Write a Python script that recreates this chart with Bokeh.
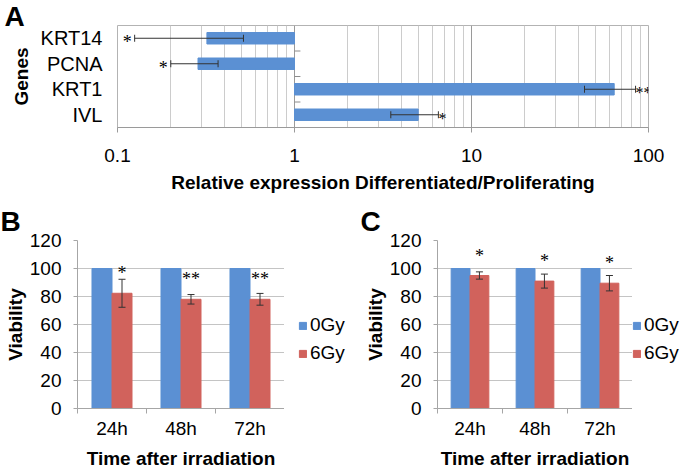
import numpy as np
from bokeh.plotting import figure
from bokeh.models import (FactorRange, Range1d, FixedTicker, NumeralTickFormatter,
                          CustomJSTickFormatter, ColumnDataSource, Label, LabelSet,
                          Legend, LegendItem)
from bokeh.layouts import column, row
from bokeh.transform import dodge
from bokeh.embed import file_html
from bokeh.resources import INLINE

FONT = "Liberation Sans"
BLUE = "#5B90D3"
RED = "#D1625C"
ERRC = "#333333"

# ---------------- Panel A data ----------------
genes = ["KRT14", "PCNA", "KRT1", "IVL"]
a_ratio = [0.32, 0.285, 64.0, 5.0]
a_err = [0.195, 0.085, 20.5, 1.5]
a_sig = ["*", "*", "**", "*"]
a_ticks = [0.1, 1, 10, 100]

# ---------------- Panels B, C data ----------------
hours = ["24h", "48h", "72h"]
doses = ["0Gy", "6Gy"]
b_0gy = [100, 100, 100]
b_6gy = [82.3, 78.0, 78.0]
b_6gy_err = [10.0, 3.4, 4.2]
b_sig = ["*", "**", "**"]
c_0gy = [100, 100, 100]
c_6gy = [95.0, 91.0, 89.5]
c_6gy_err = [2.6, 5.0, 5.5]
c_sig = ["*", "*", "*"]
viab_ticks = [0, 20, 40, 60, 80, 100, 120]


def letter(p, text, x, y, side):
    p.add_layout(Label(x=x, y=y, x_units="canvas", y_units="canvas", text=text,
                       text_font=FONT, text_font_size="28px", text_font_style="bold",
                       text_baseline="top", text_align="left", text_color="black"), side)


# ================= Panel A =================
pa = figure(width=685, height=205, x_axis_type="log", x_range=Range1d(0.1, 100),
            y_range=FactorRange(factors=genes[::-1]), output_backend="svg",
            toolbar_location=None, min_border_left=117, min_border_right=37,
            min_border_top=25, min_border_bottom=78)

lo = [r - e for r, e in zip(a_ratio, a_err)]
hi = [r + e for r, e in zip(a_ratio, a_err)]
src_a = ColumnDataSource(dict(gene=genes, ratio=a_ratio, lo=lo, hi=hi, sig=a_sig))
pa.hbar(y="gene", left=1, right="ratio", height=0.45, color=BLUE, source=src_a)
pa.segment(x0="lo", x1="hi", y0="gene", y1="gene", line_color=ERRC, line_width=1, source=src_a)
pa.scatter(x="lo", y="gene", marker="dash", angle=np.pi / 2, size=7, line_color=ERRC, source=src_a)
pa.scatter(x="hi", y="gene", marker="dash", angle=np.pi / 2, size=7, line_color=ERRC, source=src_a)

down = [i for i, r in enumerate(a_ratio) if r < 1]
up = [i for i, r in enumerate(a_ratio) if r >= 1]
src_dn = ColumnDataSource(dict(x=[lo[i] for i in down], y=[genes[i] for i in down], t=[a_sig[i] for i in down]))
src_up = ColumnDataSource(dict(x=[hi[i] for i in up], y=[genes[i] for i in up], t=[a_sig[i] for i in up]))
pa.add_layout(LabelSet(x="x", y="y", text="t", source=src_dn, x_offset=-3, y_offset=-10,
                       text_align="right", text_baseline="alphabetic", text_font=FONT,
                       text_font_size="18px", text_color="black"))
pa.add_layout(LabelSet(x="x", y="y", text="t", source=src_up, x_offset=0, y_offset=-9,
                       text_align="left", text_baseline="alphabetic", text_font=FONT,
                       text_font_size="16px", text_color="black"))

src_b = ColumnDataSource(dict(g=genes[:-1]))
pa.segment(x0=1, x1=1.08, y0=dodge("g", -0.5, range=pa.y_range),
           y1=dodge("g", -0.5, range=pa.y_range), line_color="#8c8c8c", source=src_b)

minor = [m * t for t in a_ticks[:-1] for m in range(2, 10)]
pa.xaxis.ticker = FixedTicker(ticks=a_ticks, minor_ticks=minor)
pa.xaxis.formatter = NumeralTickFormatter(format="0.[0]")
pa.xaxis.axis_line_color = "#9a9a9a"
pa.xaxis.major_tick_line_color = "#9a9a9a"
pa.xaxis.major_tick_out = 5
pa.xaxis.major_tick_in = 0
pa.xaxis.minor_tick_out = 0
pa.xaxis.minor_tick_in = 0
pa.xaxis.major_label_standoff = 16
pa.xaxis.major_label_text_font = FONT
pa.xaxis.major_label_text_font_size = "19px"
pa.xaxis.major_label_text_color = "black"
pa.xaxis.axis_label = "Relative expression Differentiated/Proliferating"
pa.xaxis.axis_label_text_font = FONT
pa.xaxis.axis_label_text_font_size = "19px"
pa.xaxis.axis_label_text_font_style = "bold"
pa.xaxis.axis_label_text_color = "black"
pa.xaxis.axis_label_standoff = 7

pa.yaxis.axis_line_color = None
pa.yaxis.major_tick_line_color = None
pa.yaxis.major_tick_out = 0
pa.yaxis.major_tick_in = 0
pa.yaxis.major_label_standoff = 15
pa.yaxis.major_label_text_font = FONT
pa.yaxis.major_label_text_font_size = "20px"
pa.yaxis.major_label_text_color = "black"
pa.yaxis.axis_label = "Genes"
pa.yaxis.axis_label_text_font = FONT
pa.yaxis.axis_label_text_font_size = "19px"
pa.yaxis.axis_label_text_font_style = "bold"
pa.yaxis.axis_label_text_color = "black"
pa.yaxis.axis_label_standoff = 6

pa.xgrid.grid_line_color = "#9a9a9a"
pa.xgrid.minor_grid_line_color = "#cccccc"
pa.ygrid.grid_line_color = None
pa.outline_line_color = "#b3b3b3"
letter(pa, "A", 4, 0, "right")


# ================= Panels B & C =================
H_BC = 266


def viability(vals0, vals6, err6, sig, width, min_left, name):
    n = len(hours)
    p = figure(width=width, height=H_BC, x_range=Range1d(0, n), y_range=Range1d(0, 120),
               output_backend="svg", toolbar_location=None,
               min_border_left=min_left, min_border_right=0,
               min_border_top=35, min_border_bottom=63)
    xs = np.arange(n) + 0.5
    src = ColumnDataSource(dict(x0=xs - 0.145, x6=xs + 0.145, v0=vals0, v6=vals6,
                                lo=[v - e for v, e in zip(vals6, err6)],
                                hi=[v + e for v, e in zip(vals6, err6)], sig=sig))
    p.vbar(x="x0", top="v0", bottom=0, width=0.29, color=BLUE, source=src)
    p.vbar(x="x6", top="v6", bottom=0, width=0.29, color=RED, source=src)
    p.segment(x0="x6", x1="x6", y0="lo", y1="hi", line_color=ERRC, source=src)
    p.scatter(x="x6", y="lo", marker="dash", size=7, line_color=ERRC, source=src)
    p.scatter(x="x6", y="hi", marker="dash", size=7, line_color=ERRC, source=src)
    p.add_layout(LabelSet(x="x6", y="v6", text="sig", source=src, y_offset=14,
                          text_align="center", text_baseline="alphabetic", text_font=FONT,
                          text_font_size="18px", text_color="black"))

    p.xaxis.ticker = FixedTicker(ticks=[float(v) for v in xs], minor_ticks=list(range(n + 1)))
    p.xaxis.formatter = CustomJSTickFormatter(args=dict(labels=hours),
                                              code="return labels[Math.floor(tick)] || '';")
    p.xaxis.axis_line_color = "#a6a6a6"
    p.xaxis.major_tick_line_color = None
    p.xaxis.major_tick_out = 0
    p.xaxis.major_tick_in = 0
    p.xaxis.minor_tick_line_color = "#a6a6a6"
    p.xaxis.minor_tick_out = 5
    p.xaxis.minor_tick_in = 0
    p.xaxis.major_label_standoff = 4
    p.xaxis.major_label_text_font = FONT
    p.xaxis.major_label_text_font_size = "19px"
    p.xaxis.major_label_text_color = "black"
    p.xaxis.axis_label = "Time after irradiation"
    p.xaxis.axis_label_text_font = FONT
    p.xaxis.axis_label_text_font_size = "19px"
    p.xaxis.axis_label_text_font_style = "bold"
    p.xaxis.axis_label_text_color = "black"
    p.xaxis.axis_label_standoff = 6

    p.yaxis.ticker = FixedTicker(ticks=viab_ticks)
    p.yaxis.axis_line_color = "#a6a6a6"
    p.yaxis.major_tick_line_color = "#a6a6a6"
    p.yaxis.major_tick_out = 4
    p.yaxis.major_tick_in = 0
    p.yaxis.minor_tick_out = 0
    p.yaxis.minor_tick_in = 0
    p.yaxis.major_label_standoff = 12
    p.yaxis.major_label_text_font = FONT
    p.yaxis.major_label_text_font_size = "19px"
    p.yaxis.major_label_text_color = "black"
    p.yaxis.axis_label = "Viability"
    p.yaxis.axis_label_text_font = FONT
    p.yaxis.axis_label_text_font_size = "19px"
    p.yaxis.axis_label_text_font_style = "bold"
    p.yaxis.axis_label_text_color = "black"
    p.yaxis.axis_label_standoff = 1

    p.xgrid.grid_line_color = None
    p.ygrid.grid_line_color = "#c4c4c4"
    p.outline_line_color = None
    letter(p, name, 0, 0, "above")
    return p


def legend_panel(width, x_off):
    # a small neighbouring figure that only holds the legend of the panel to its left
    lf = figure(width=width, height=H_BC, x_range=Range1d(0, 1), y_range=Range1d(0, 1),
                output_backend="svg", toolbar_location=None, min_border=0,
                x_axis_type=None, y_axis_type=None)
    lf.outline_line_color = None
    lf.xgrid.grid_line_color = None
    lf.ygrid.grid_line_color = None
    proxy = ColumnDataSource(dict(x=[np.nan], top=[np.nan]))
    rs = [lf.vbar(x="x", top="top", width=0.1, color=c, source=proxy) for c in (BLUE, RED)]
    leg = Legend(items=[LegendItem(label=d, renderers=[r]) for d, r in zip(doses, rs)],
                 location=(x_off, 44), glyph_width=9, glyph_height=9, label_standoff=3,
                 spacing=6, padding=0, margin=0, border_line_color=None,
                 background_fill_alpha=0, label_text_font=FONT,
                 label_text_font_size="19px", label_text_color="black")
    lf.add_layout(leg)
    return lf


pb = viability(b_0gy, b_6gy, b_6gy_err, b_sig, 284, 77, "B")
lb = legend_panel(76, 14)
pc = viability(c_0gy, c_6gy, c_6gy_err, c_sig, 272, 77, "C")
lc = legend_panel(53, 0)

layout = column(pa, row(pb, lb, pc, lc))
open("out.html", "w").write(file_html(layout, INLINE))
